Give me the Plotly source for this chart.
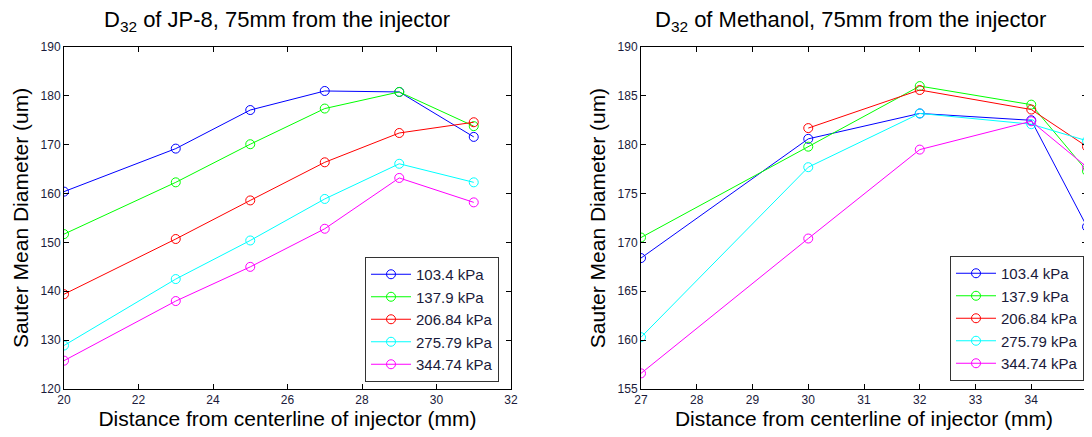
import plotly.graph_objects as go

# page body has an 8px margin; figure occupies the rest of the 1092x437 window
OFF = 8
W, H = 1092 - OFF, 437 - OFF

series_names = ["103.4 kPa", "137.9 kPa", "206.84 kPa", "275.79 kPa", "344.74 kPa"]
colors = ["#0000FF", "#00FF00", "#FF0000", "#00FFFF", "#FF00FF"]

# JP-8
jp8_x = [20, 23, 25, 27, 29, 31]
jp8_103 = [160.4, 169.2, 177.1, 181.0, 180.8, 171.6]
jp8_138 = [151.7, 162.3, 170.1, 177.4, 180.8, 173.8]
jp8_207 = [139.4, 150.7, 158.6, 166.4, 172.4, 174.6]
jp8_276 = [128.9, 142.5, 150.4, 158.9, 166.1, 162.3]
jp8_345 = [125.8, 138.0, 145.0, 152.8, 163.2, 158.2]

# Methanol
met_x = [27, 30, 32, 34, 35]
met_103 = [168.4, 180.6, 183.2, 182.5, 171.6]
met_138 = [170.5, 179.8, 186.0, 184.1, 177.3]
met_207 = [None, 181.7, 185.6, 183.6, 179.8]
met_276 = [160.3, 177.7, 183.2, 182.1, 180.4]
met_345 = [156.6, 170.4, 179.5, 182.4, 177.7]

jp8_ticks_x = [20, 22, 24, 26, 28, 30, 32]
jp8_ticks_y = [120, 130, 140, 150, 160, 170, 180, 190]
met_ticks_x = [27, 28, 29, 30, 31, 32, 33, 34, 35]
met_ticks_y = [155, 160, 165, 170, 175, 180, 185, 190]

FONT = "Liberation Sans, Arial, sans-serif"
TICKCOL = "#1a1a3a"

fig = go.Figure()

jp8_series = [jp8_103, jp8_138, jp8_207, jp8_276, jp8_345]
met_series = [met_103, met_138, met_207, met_276, met_345]

for name, col, ys in zip(series_names, colors, jp8_series):
    fig.add_trace(go.Scatter(x=jp8_x, y=ys, name=name, mode="lines+markers",
                             line=dict(color=col, width=1),
                             marker=dict(symbol="circle-open", size=9, color=col, line=dict(width=1)),
                             xaxis="x", yaxis="y", legend="legend"))
for name, col, ys in zip(series_names, colors, met_series):
    fig.add_trace(go.Scatter(x=met_x, y=ys, name=name, mode="lines+markers",
                             line=dict(color=col, width=1),
                             marker=dict(symbol="circle-open", size=9, color=col, line=dict(width=1)),
                             xaxis="x2", yaxis="y2", legend="legend2", connectgaps=False))

def px_x(p):
    return (p - OFF) / W

def px_y(p):
    return 1 - (p - OFF) / H

axis_common = dict(showline=True, linecolor="black", linewidth=1, mirror="ticks",
                   ticks="inside", ticklen=5, tickcolor="black", showgrid=False, zeroline=False,
                   automargin=False,
                   tickfont=dict(family=FONT, size=12, color=TICKCOL))

XT = "Distance from centerline of injector (mm)"
YT = "Sauter Mean Diameter (um)"

fig.update_layout(
    width=W, height=H,
    margin=dict(l=0, r=0, t=0, b=0, autoexpand=False),
    paper_bgcolor="white", plot_bgcolor="white",
    font=dict(family=FONT, color="black"),
    xaxis=dict(domain=[px_x(64), px_x(511)], range=[20, 32], tickvals=jp8_ticks_x, anchor="y",
               title=dict(text=XT, font=dict(size=21), standoff=2), **axis_common),
    yaxis=dict(domain=[px_y(389), px_y(47)], range=[120, 190], tickvals=jp8_ticks_y, anchor="x",
               title=dict(text=YT, font=dict(size=21), standoff=6), **axis_common),
    xaxis2=dict(domain=[px_x(641), px_x(1087)], range=[27, 35], tickvals=met_ticks_x, anchor="y2",
                title=dict(text=XT, font=dict(size=21), standoff=2), **axis_common),
    yaxis2=dict(domain=[px_y(389), px_y(47)], range=[155, 190], tickvals=met_ticks_y, anchor="x2",
                title=dict(text=YT, font=dict(size=21), standoff=6), **axis_common),
    legend=dict(x=px_x(499), y=px_y(382), xanchor="right", yanchor="bottom",
                bgcolor="white", bordercolor="#333333", borderwidth=1,
                font=dict(family=FONT, size=15, color=TICKCOL), tracegroupgap=0,
                itemwidth=40),
    legend2=dict(x=px_x(1084), y=px_y(381), xanchor="right", yanchor="bottom",
                 bgcolor="white", bordercolor="#333333", borderwidth=1,
                 font=dict(family=FONT, size=15, color=TICKCOL), tracegroupgap=0,
                 itemwidth=40),
    annotations=[
        dict(text="D<sub>32</sub> of JP-8, 75mm from the injector", x=px_x(277), y=px_y(21),
             xref="paper", yref="paper", showarrow=False, xanchor="center", yanchor="middle",
             font=dict(family=FONT, size=22, color="black")),
        dict(text="D<sub>32</sub> of Methanol, 75mm from the injector", x=px_x(850), y=px_y(21),
             xref="paper", yref="paper", showarrow=False, xanchor="center", yanchor="middle",
             font=dict(family=FONT, size=22, color="black")),
    ],
)

fig.write_html("out.html")
